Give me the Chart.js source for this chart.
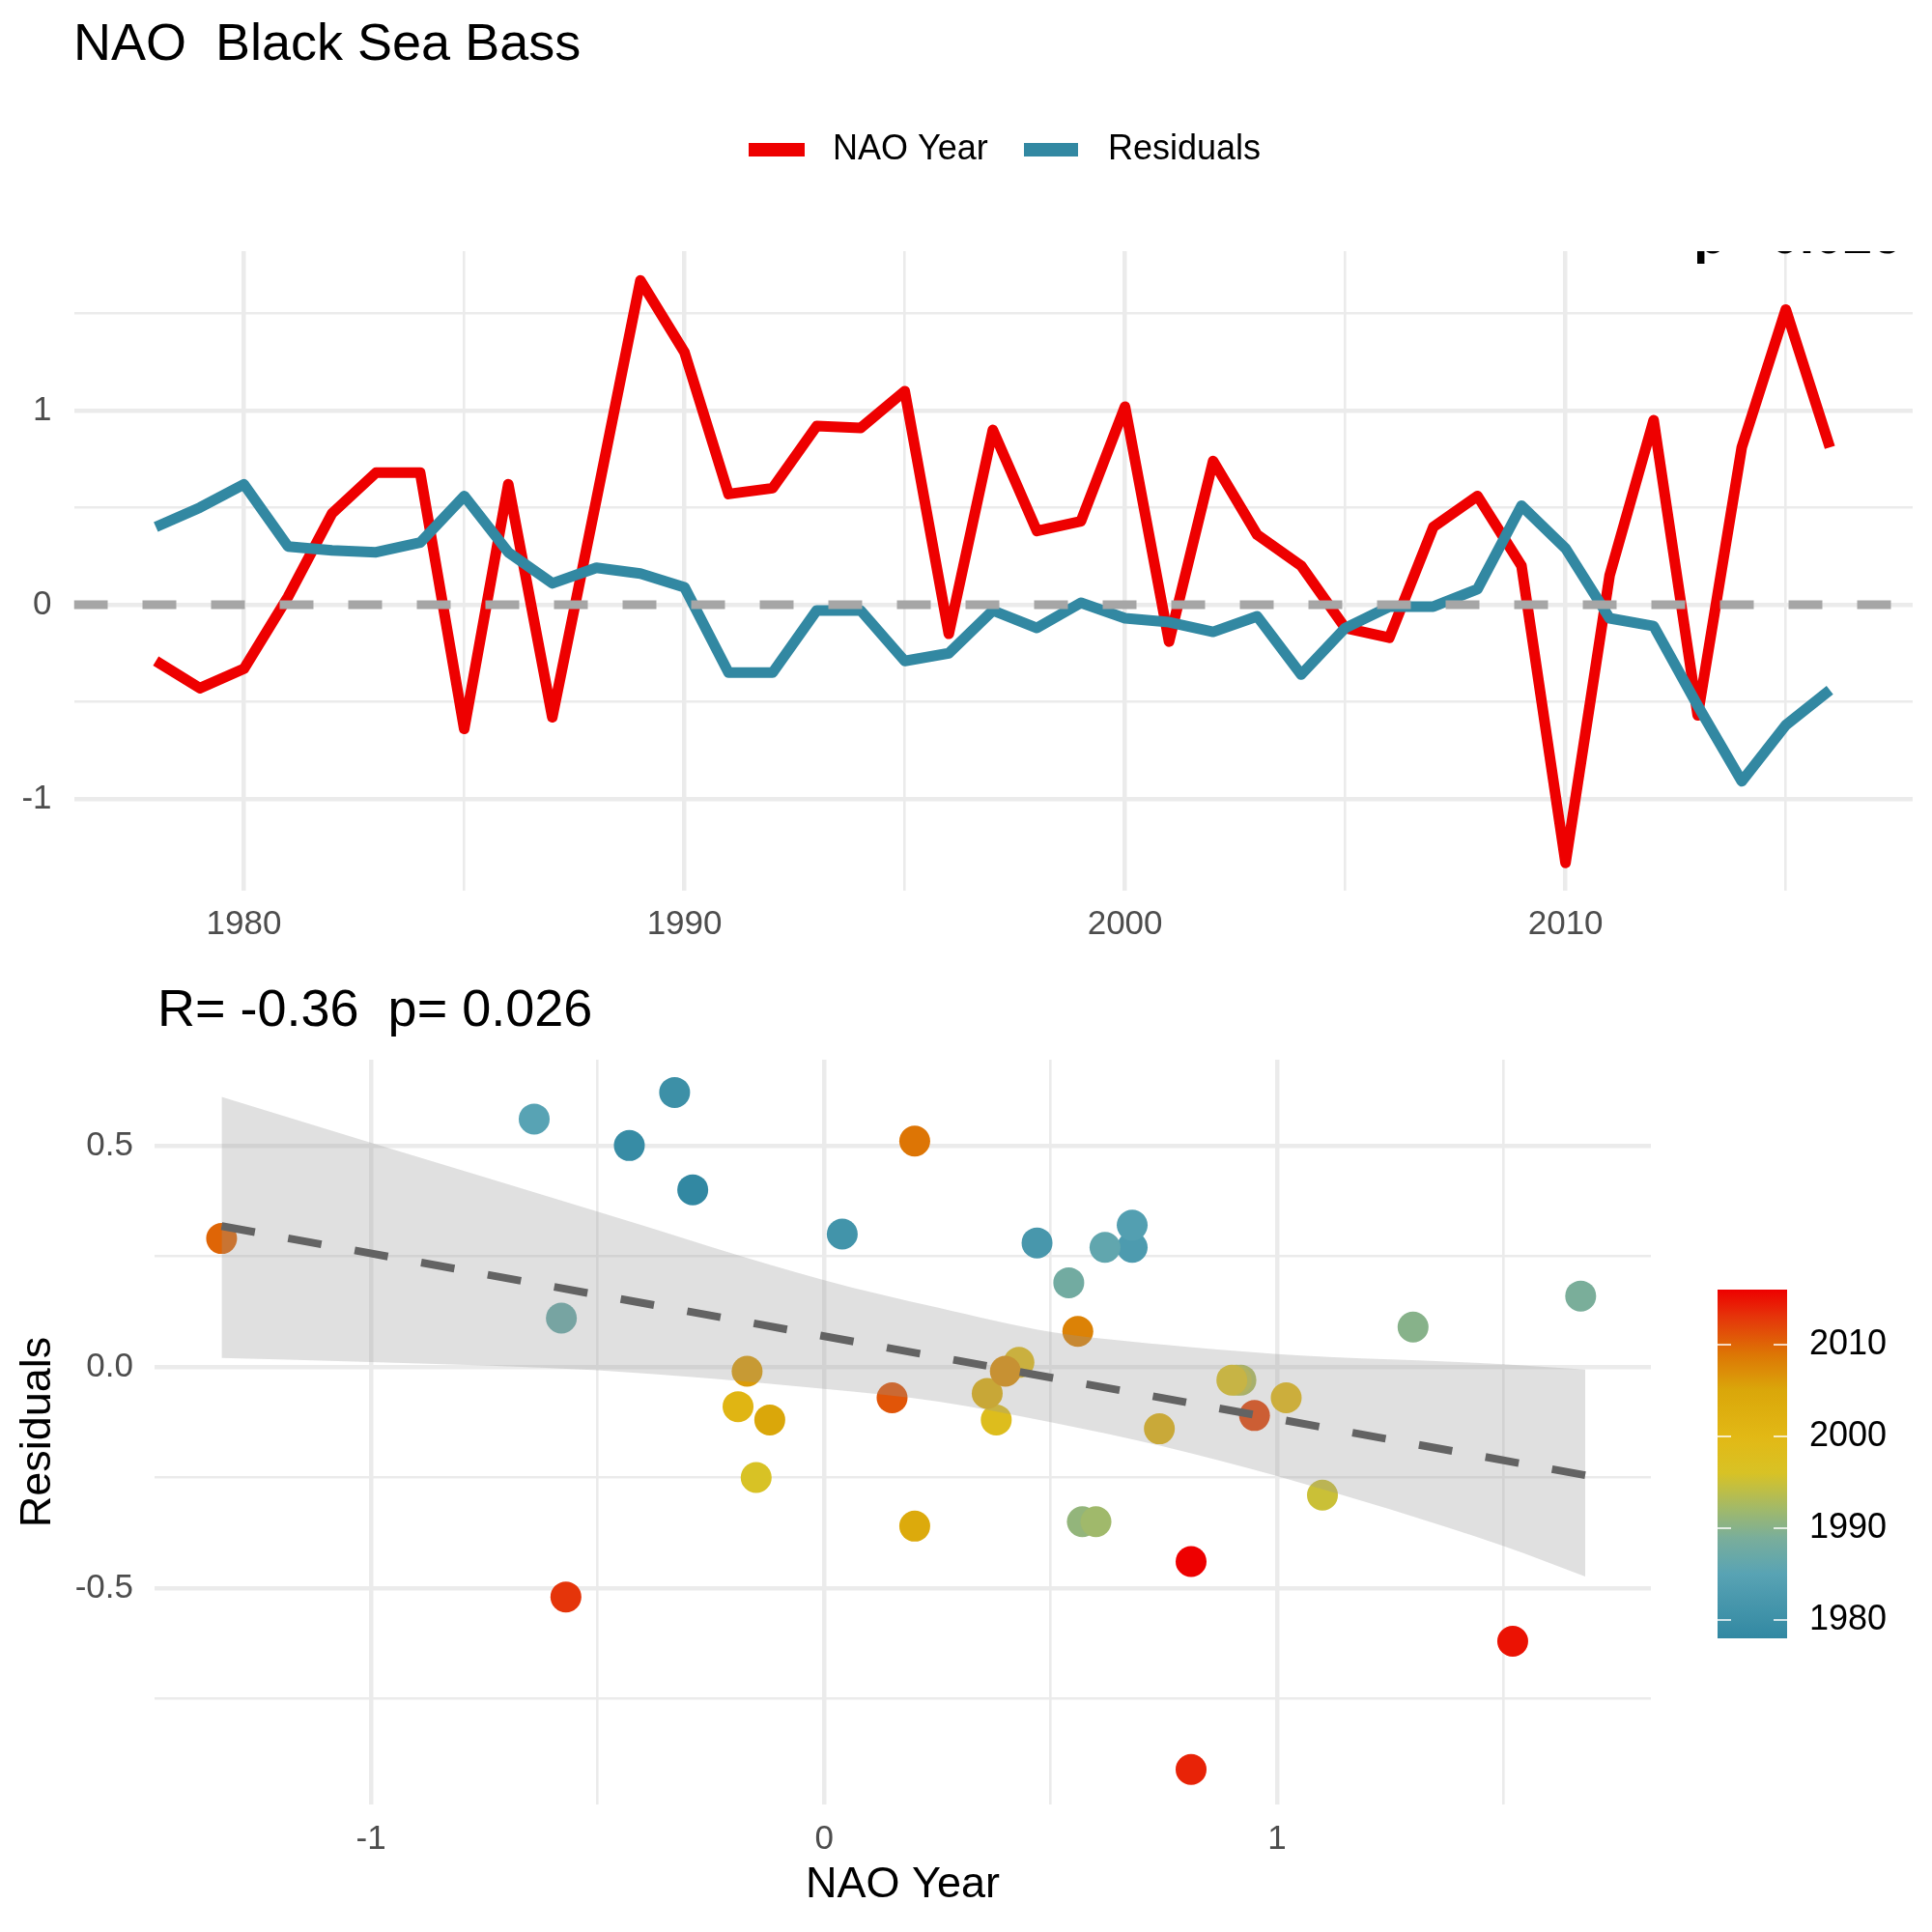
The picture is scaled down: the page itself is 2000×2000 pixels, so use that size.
<!DOCTYPE html>
<html>
<head>
<meta charset="utf-8">
<script src="https://cdn.jsdelivr.net/npm/chart.js@4.4.1/dist/chart.umd.min.js"></script>
<style>
  html, body { margin: 0; padding: 0; background: #fff; }
  #wrap { position: relative; width: 2000px; height: 2000px; }
  canvas { position: absolute; left: 0; }
</style>
</head>
<body>
<div id="wrap">
  <canvas id="lineChart" width="2000" height="1000" style="top:0"></canvas>
  <canvas id="scatterChart" width="2000" height="1000" style="top:1000px"></canvas>
</div>
<script>
// ---- data ----
const years = [1978, 1979, 1980, 1981, 1982, 1983, 1984, 1985, 1986, 1987,
  1988, 1989, 1990, 1991, 1992, 1993, 1994, 1995, 1996, 1997,
  1998, 1999, 2000, 2001, 2002, 2003, 2004, 2005, 2006, 2007,
  2008, 2009, 2010, 2011, 2012, 2013, 2014, 2015, 2016];
const naoYear = [-0.29, -0.43, -0.33, 0.04, 0.47, 0.68, 0.68, -0.64, 0.62, -0.58,
  0.54, 1.67, 1.30, 0.57, 0.60, 0.92, 0.91, 1.10, -0.15, 0.90,
  0.38, 0.43, 1.02, -0.19, 0.74, 0.36, 0.20, -0.12, -0.17, 0.40,
  0.56, 0.20, -1.33, 0.15, 0.95, -0.57, 0.81, 1.52, 0.81];
const residuals = [0.40, 0.50, 0.62, 0.30, 0.28, 0.27, 0.32, 0.56, 0.27, 0.11,
  0.19, 0.16, 0.09, -0.35, -0.35, -0.03, -0.03, -0.29, -0.25, -0.03,
  -0.12, 0.01, -0.07, -0.09, -0.14, -0.06, -0.36, -0.12, -0.01, -0.01,
  0.08, 0.51, 0.29, -0.07, -0.11, -0.52, -0.91, -0.62, -0.44];

// linear fit and its confidence band
const fitX = [-1.33, 1.68];
const fitY = [0.318, -0.245];
const bandX = [-1.33, -1, -0.5, 0, 0.25, 0.5, 0.75, 1.0, 1.5, 1.68];
const bandUpper = [0.61, 0.506, 0.351, 0.196, 0.134, 0.079, 0.050, 0.029, 0.006, -0.006];
const bandLower = [0.02, 0.011, -0.008, -0.05, -0.078, -0.125, -0.18, -0.247, -0.405, -0.474];

// ticks
const topXTicks = [1980, 1985, 1990, 1995, 2000, 2005, 2010, 2015];
const topXLabels = ['1980', '', '1990', '', '2000', '', '2010', ''];
const topYTicks = [-1.5, -1, -0.5, 0, 0.5, 1, 1.5];
const topYLabels = ['', '-1', '', '0', '', '1', ''];
const scatterXTicks = [-1.5, -1, -0.5, 0, 0.5, 1, 1.5];
const scatterXLabels = ['', '-1', '', '0', '', '1', ''];
const scatterYTicks = [-0.75, -0.5, -0.25, 0, 0.25, 0.5];
const scatterYLabels = ['', '-0.5', '', '0.0', '', '0.5'];
const colorbarTicks = [1980, 1990, 2000, 2010];
const refLines = [0];

// ---- styling ----
const FONT = '"Liberation Sans", Arial, Helvetica, sans-serif';
Chart.defaults.font.family = FONT;
Chart.defaults.color = '#4D4D4D';
const GRID = '#EBEBEB';
const RED = '#EE0000';
const BLUE = '#3288A2';

const paletteYears = [1978, 1985, 1989, 1992, 1996, 2000, 2005, 2009, 2013, 2016];
const paletteColors = ['#3288A2', '#58A3B4', '#7AAE9A', '#A0B96B', '#D8C225',
  '#E2B815', '#DAA70A', '#DD7505', '#E5350A', '#EE0000'];

function hexRgb(h) {
  return [parseInt(h.slice(1, 3), 16), parseInt(h.slice(3, 5), 16), parseInt(h.slice(5, 7), 16)];
}
function yearColor(yr) {
  for (let i = 0; i < paletteYears.length - 1; i++) {
    if (yr <= paletteYears[i + 1]) {
      const t = (yr - paletteYears[i]) / (paletteYears[i + 1] - paletteYears[i]);
      const a = hexRgb(paletteColors[i]), b = hexRgb(paletteColors[i + 1]);
      const c = a.map((v, k) => Math.round(v + (b[k] - v) * t));
      return 'rgb(' + c.join(',') + ')';
    }
  }
  return paletteColors[paletteColors.length - 1];
}

function isMajor(v, step) {
  const r = v / step;
  return Math.abs(r - Math.round(r)) < 1e-9;
}
function setTicks(list) {
  return function (scale) {
    scale.ticks = list.filter(v => v >= scale.min - 1e-9 && v <= scale.max + 1e-9)
      .map(v => ({ value: v }));
  };
}
function labelFrom(ticks, labels) {
  return function (value) {
    const i = ticks.findIndex(t => Math.abs(t - value) < 1e-9);
    return i < 0 ? '' : labels[i];
  };
}

// ---- top chart: time series ----
const topDecor = {
  id: 'topDecor',
  afterDatasetsDraw(chart) {
    const { ctx, chartArea, scales } = chart;
    ctx.save();
    ctx.beginPath();
    ctx.rect(chartArea.left, chartArea.top, chartArea.right - chartArea.left, chartArea.bottom - chartArea.top);
    ctx.clip();
    // dashed reference line
    ctx.strokeStyle = '#A6A6A6';
    ctx.lineWidth = 9;
    ctx.setLineDash([35, 36]);
    refLines.forEach(v => {
      const y = scales.y.getPixelForValue(v);
      ctx.beginPath();
      ctx.moveTo(chartArea.left, y);
      ctx.lineTo(chartArea.right, y);
      ctx.stroke();
    });
    // annotation clipped by the panel top
    ctx.setLineDash([]);
    ctx.fillStyle = '#000';
    ctx.font = 'bold 54px ' + FONT;
    ctx.textAlign = 'right';
    ctx.textBaseline = 'alphabetic';
    ctx.fillText('p= 0.026', 1968, chartArea.top + 2);
    ctx.restore();
  },
  afterDraw(chart) {
    const { ctx } = chart;
    ctx.save();
    ctx.fillStyle = '#000';
    ctx.font = '54px ' + FONT;
    ctx.textAlign = 'left';
    ctx.textBaseline = 'alphabetic';
    ctx.fillText('NAO  Black Sea Bass', 76, 62);
    // legend
    ctx.font = '36px ' + FONT;
    ctx.textBaseline = 'middle';
    ctx.fillStyle = RED;
    ctx.fillRect(775, 148, 58, 14);
    ctx.fillStyle = '#000';
    ctx.fillText('NAO Year', 862, 155);
    ctx.fillStyle = BLUE;
    ctx.fillRect(1060, 148, 56, 14);
    ctx.fillStyle = '#000';
    ctx.fillText('Residuals', 1147, 155);
    ctx.restore();
  }
};

new Chart(document.getElementById('lineChart').getContext('2d'), {
  type: 'line',
  data: {
    datasets: [
      {
        label: 'Residuals',
        data: years.map((yr, i) => ({ x: yr, y: residuals[i] })),
        borderColor: BLUE,
        borderWidth: 11,
        borderCapStyle: 'butt',
        borderJoinStyle: 'round',
        pointRadius: 0,
        tension: 0,
        order: 1,
      },
      {
        label: 'NAO Year',
        data: years.map((yr, i) => ({ x: yr, y: naoYear[i] })),
        borderColor: RED,
        borderWidth: 11,
        borderCapStyle: 'butt',
        borderJoinStyle: 'round',
        pointRadius: 0,
        tension: 0,
        order: 2,
      },
    ],
  },
  options: {
    responsive: false,
    animation: false,
    devicePixelRatio: 1,
    layout: { padding: { left: 0, top: 260, right: 20, bottom: 0 } },
    plugins: { legend: { display: false }, tooltip: { enabled: false } },
    scales: {
      x: {
        type: 'linear',
        min: 1976.14,
        max: 2017.88,
        afterBuildTicks: setTicks(topXTicks),
        afterFit: s => { s.height = 78; },
        border: { display: false },
        grid: {
          color: GRID,
          drawTicks: false,
          lineWidth: c => (isMajor(c.tick.value, 10) ? 4.5 : 2.6),
        },
        ticks: {
          autoSkip: false,
          maxRotation: 0,
          padding: 14,
          font: { size: 35 },
          color: '#4D4D4D',
          callback: labelFrom(topXTicks, topXLabels),
        },
      },
      y: {
        min: -1.473,
        max: 1.821,
        afterBuildTicks: setTicks(topYTicks),
        afterFit: s => { s.width = 76.5; },
        border: { display: false },
        grid: {
          color: GRID,
          drawTicks: false,
          lineWidth: c => (isMajor(c.tick.value, 1) ? 4.5 : 2.6),
        },
        ticks: {
          padding: 23,
          font: { size: 35 },
          color: '#4D4D4D',
          callback: labelFrom(topYTicks, topYLabels),
        },
      },
    },
  },
  plugins: [topDecor],
});

// ---- bottom chart: scatter with fit ----
const bottomDecor = {
  id: 'bottomDecor',
  afterDraw(chart) {
    const { ctx } = chart;
    ctx.save();
    ctx.fillStyle = '#000';
    ctx.font = '54px ' + FONT;
    ctx.textAlign = 'left';
    ctx.textBaseline = 'alphabetic';
    ctx.fillText('R= -0.36  p= 0.026', 163, 62);

    // colour bar
    const x0 = 1778, x1 = 1850, yTop = 335, yBot = 696;
    const y0 = years[0], y1 = years[years.length - 1];
    const yPix = yr => yBot - (yr - y0) / (y1 - y0) * (yBot - yTop);
    const grad = ctx.createLinearGradient(0, yBot, 0, yTop);
    for (let yr = y0; yr <= y1; yr++) {
      grad.addColorStop((yr - y0) / (y1 - y0), yearColor(yr));
    }
    ctx.fillStyle = grad;
    ctx.fillRect(x0, yTop, x1 - x0, yBot - yTop);
    ctx.strokeStyle = '#fff';
    ctx.lineWidth = 1.5;
    ctx.fillStyle = '#000';
    ctx.font = '36px ' + FONT;
    ctx.textBaseline = 'middle';
    colorbarTicks.forEach(yr => {
      const y = yPix(yr);
      ctx.beginPath();
      ctx.moveTo(x0, y); ctx.lineTo(x0 + 14, y);
      ctx.moveTo(x1 - 14, y); ctx.lineTo(x1, y);
      ctx.stroke();
      ctx.fillText(String(yr), 1873, y);
    });
    ctx.restore();
  }
};

new Chart(document.getElementById('scatterChart').getContext('2d'), {
  type: 'scatter',
  data: {
    datasets: [
      {
        label: 'points',
        data: naoYear.map((v, i) => ({ x: v, y: residuals[i] })),
        pointBackgroundColor: years.map(yearColor),
        pointBorderWidth: 0,
        pointRadius: 16,
        order: 3,
      },
      {
        type: 'line',
        label: 'upper',
        data: bandX.map((v, i) => ({ x: v, y: bandUpper[i] })),
        borderColor: 'transparent',
        borderWidth: 0,
        backgroundColor: 'rgba(153,153,153,0.3)',
        fill: '+1',
        pointRadius: 0,
        cubicInterpolationMode: 'monotone',
        order: 2,
      },
      {
        type: 'line',
        label: 'lower',
        data: bandX.map((v, i) => ({ x: v, y: bandLower[i] })),
        borderColor: 'transparent',
        borderWidth: 0,
        fill: false,
        pointRadius: 0,
        cubicInterpolationMode: 'monotone',
        order: 2,
      },
      {
        type: 'line',
        label: 'fit',
        data: fitX.map((v, i) => ({ x: v, y: fitY[i] })),
        borderColor: '#636363',
        borderWidth: 8,
        borderDash: [35, 35],
        borderCapStyle: 'butt',
        pointRadius: 0,
        fill: false,
        order: 1,
      },
    ],
  },
  options: {
    responsive: false,
    animation: false,
    devicePixelRatio: 1,
    layout: { padding: { left: 0, top: 97, right: 291, bottom: 0 } },
    plugins: { legend: { display: false }, tooltip: { enabled: false } },
    scales: {
      x: {
        type: 'linear',
        min: -1.478,
        max: 1.825,
        afterBuildTicks: setTicks(scatterXTicks),
        afterFit: s => { s.height = 132; },
        border: { display: false },
        grid: {
          color: GRID,
          drawTicks: false,
          lineWidth: c => (isMajor(c.tick.value, 1) ? 4.5 : 2.6),
        },
        ticks: {
          autoSkip: false,
          maxRotation: 0,
          padding: 15,
          font: { size: 35 },
          color: '#4D4D4D',
          callback: labelFrom(scatterXTicks, scatterXLabels),
        },
        title: {
          display: true,
          text: 'NAO Year',
          color: '#000',
          font: { size: 45 },
          padding: { top: 0, bottom: 21 },
        },
      },
      y: {
        min: -0.989,
        max: 0.694,
        afterBuildTicks: setTicks(scatterYTicks),
        afterFit: s => { s.width = 160; },
        border: { display: false },
        grid: {
          color: GRID,
          drawTicks: false,
          lineWidth: c => (isMajor(c.tick.value, 0.5) ? 4.5 : 2.6),
        },
        ticks: {
          padding: 22,
          font: { size: 35 },
          color: '#4D4D4D',
          callback: labelFrom(scatterYTicks, scatterYLabels),
        },
        title: {
          display: true,
          text: 'Residuals',
          color: '#000',
          font: { size: 45 },
          padding: { top: 13, bottom: 0 },
        },
      },
    },
  },
  plugins: [bottomDecor],
});
</script>
</body>
</html>
